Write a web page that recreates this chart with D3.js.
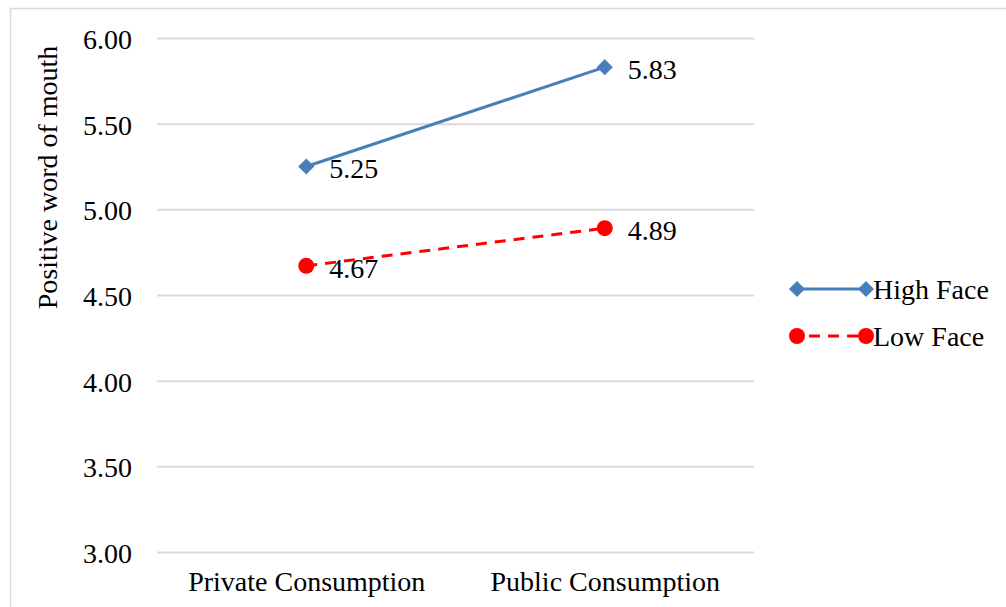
<!DOCTYPE html>
<html>
<head>
<meta charset="utf-8">
<script src="https://cdn.jsdelivr.net/npm/d3@7"></script>
<style>
  html, body { margin: 0; padding: 0; background: #fff; }
  svg { display: block; font-family: "Liberation Serif", "Times New Roman", serif; }
</style>
</head>
<body>
<svg id="chart" width="1006" height="607"></svg>
<script>
// Chart data
const categories = ["Private Consumption", "Public Consumption"];
const highFace = [5.25, 5.83];
const lowFace = [4.67, 4.89];
const seriesNames = ["High Face", "Low Face"];
const yTicks = [3.0, 3.5, 4.0, 4.5, 5.0, 5.5, 6.0];
const yTitle = "Positive word of mouth";

const svg = d3.select("#chart");
const W = 1006, H = 607;
const plot = { left: 157, right: 754, top: 38, bottom: 552 };
const FS = 28;

// outer frame
svg.append("rect")
  .attr("x", 10.5).attr("y", 8.5)
  .attr("width", W + 10).attr("height", H + 10)
  .attr("fill", "#fff").attr("stroke", "#d9d9d9").attr("stroke-width", 1.5);

const x = d3.scalePoint().domain(categories).range([plot.left, plot.right]).padding(0.5);
const y = d3.scaleLinear().domain([3, 6]).range([plot.bottom, plot.top]);

// gridlines + y labels
const yAxis = d3.axisLeft(y).tickValues(yTicks).tickFormat(d3.format(".2f"))
  .tickSize(-(plot.right - plot.left)).tickPadding(25);
const gy = svg.append("g").attr("transform", `translate(${plot.left},0)`).call(yAxis);
gy.select(".domain").remove();
gy.selectAll(".tick line").attr("stroke", "#d9d9d9").attr("stroke-width", 2);
gy.selectAll(".tick text").attr("fill", "#000").attr("font-size", FS)
  .attr("font-family", "Liberation Serif, serif").attr("dy", "0.38em");

// x labels
const xAxis = d3.axisBottom(x).tickSize(0).tickPadding(19);
const gx = svg.append("g").attr("transform", `translate(0,${plot.bottom})`).call(xAxis);
gx.select(".domain").remove();
gx.selectAll(".tick text").attr("fill", "#000").attr("font-size", FS)
  .attr("font-family", "Liberation Serif, serif");

// y title
svg.append("text")
  .attr("transform", `translate(57,${(45 + 310) / 2}) rotate(-90)`)
  .attr("text-anchor", "middle").attr("font-size", FS).attr("fill", "#000")
  .text(yTitle);

const blue = "#4a7ebb", red = "#ff0000";
const line = d3.line().x((d, i) => x(categories[i])).y(d => y(d));
const diamond = d3.symbol().type(d3.symbolDiamond2).size(165);

// High Face
svg.append("path").datum(highFace).attr("d", line)
  .attr("fill", "none").attr("stroke", blue).attr("stroke-width", 3);
svg.selectAll(".hf").data(highFace).join("path").attr("class", "hf")
  .attr("transform", (d, i) => `translate(${x(categories[i])},${y(d)})`)
  .attr("d", diamond).attr("fill", blue);

// Low Face
svg.append("path").datum(lowFace).attr("d", line)
  .attr("fill", "none").attr("stroke", red).attr("stroke-width", 3)
  .attr("stroke-dasharray", "11 8");
svg.selectAll(".lf").data(lowFace).join("circle").attr("class", "lf")
  .attr("cx", (d, i) => x(categories[i])).attr("cy", d => y(d))
  .attr("r", 8).attr("fill", red);

// value labels
const labels = highFace.map((v, i) => ({ v, i })).concat(lowFace.map((v, i) => ({ v, i })));
svg.selectAll(".vl").data(labels).join("text").attr("class", "vl")
  .attr("x", d => x(categories[d.i]) + 23)
  .attr("y", d => y(d.v) + 2)
  .attr("dy", "0.35em").attr("font-size", FS).attr("fill", "#000")
  .text(d => d3.format(".2f")(d.v));

// legend
const legend = svg.append("g");
const legY = [289, 336];
seriesNames.forEach((name, k) => {
  const g = legend.append("g").attr("transform", `translate(0,${legY[k]})`);
  const col = k === 0 ? blue : red;
  g.append("line").attr("x1", 797).attr("x2", 866).attr("y1", 0).attr("y2", 0)
    .attr("stroke", col).attr("stroke-width", 3)
    .attr("stroke-dasharray", k === 0 ? null : "11 8").attr("stroke-dashoffset", k === 0 ? 0 : -12);
  [797, 866].forEach(px => {
    if (k === 0) g.append("path").attr("transform", `translate(${px},0)`).attr("d", diamond).attr("fill", col);
    else g.append("circle").attr("cx", px).attr("cy", 0).attr("r", 8).attr("fill", col);
  });
  g.append("text").attr("x", 873).attr("y", 0).attr("dy", "0.35em")
    .attr("font-size", FS).attr("fill", "#000").text(name);
});
</script>
</body>
</html>
